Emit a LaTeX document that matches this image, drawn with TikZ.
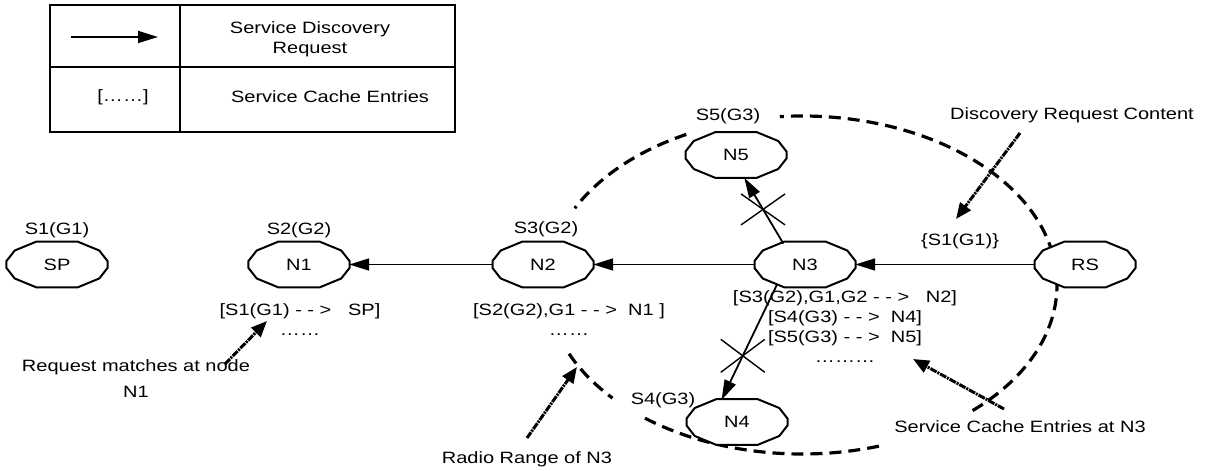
\documentclass[tikz,border=0pt]{standalone}
\usepackage{fontspec}
\setmainfont{Liberation Sans}[FakeStretch=1.22]
\usetikzlibrary{arrows.meta, calc, backgrounds, shapes.geometric}

\tikzset{
  station/.style={ellipse, minimum width=100pt, minimum height=46pt, inner sep=0pt},
  svc/.style={inner sep=0pt},
  cache/.style={inner sep=0pt, anchor=north, align=center},
  req/.style={line width=1.8pt, -{Triangle[length=20pt,width=12pt]}},
  cut/.style={line width=1.4pt},
  radio/.style={line width=3.2pt, dash pattern=on 12pt off 7pt},
  note/.style={line width=3pt, dash pattern=on 7pt off 1pt on 2pt off 1pt, -{Triangle[length=16pt,width=13pt]}},
}

\begin{document}
\begin{tikzpicture}[x=1pt, y=1pt, font=\fontsize{16.4}{20}\selectfont]
    \useasboundingbox (0,0) rectangle (1215,471);

    % legend
    \draw[line width=2pt] (50,339) rectangle (455,466);
    \draw[line width=2pt] (180,339) -- (180,466);
    \draw[line width=2pt] (50,404) -- (455,404);
    \coordinate (k1) at (71,434);
    \coordinate (k2) at (158,434);
    \draw[req] (k1) -- (k2);
    \node[align=center] (kreq) at (310,431.5) {Service Discovery\\Request};
    \node (kdots) at (123,374) {[……]};
    \node (kcache) at (330,374) {Service Cache Entries};

    % stations
    \node[station] (SP) at (57,206.5) {SP};
    \node[station] (N1) at (299,206.5) {N1};
    \node[station] (N2) at (543,206.5) {N2};
    \node[station] (N3) at (805,206.5) {N3};
    \node[station] (RS) at (1085,206.5) {RS};
    \node[station] (N5) at (736,316) {N5};
    \node[station] (N4) at (737,49) {N4};

    \node[svc] (s1) at (57,241) {S1(G1)};
    \node[svc] (s2) at (299,241) {S2(G2)};
    \node[svc] (s3) at (546,242) {S3(G2)};
    \node[svc] (s5) at (728,355) {S5(G3)};
    \node[svc] (s4) at (663,71) {S4(G3)};

    % service caches
    \node[cache] (c1) at (300,167.5) {[S1(G1) - - >\ \ \ SP]\\……};
    \node[cache] (c2) at (569,167.5) {[S2(G2),G1 - - >\ \ N1\ ]\\……};
    \node[cache] (c3) at (845,180.5) {[S3(G2),G1,G2 - - >\ \ \ N2]\\{}[S4(G3) - - >\ \ N4]\\{}[S5(G3) - - >\ \ N5]\\………};

    % requests
    \draw[req] (N2) -- (N1);
    \draw[req] (N3) -- (N2);
    \draw[req] (RS) -- (N3);
    \draw[req] (N3.136) -- coordinate[pos=0.52] (x5) (N5.-70);
    \draw[req] (N3.215) -- coordinate[pos=0.62] (x4) (N4.125);
    \draw[cut] ($(x5)+(-22,15.5)$) -- ($(x5)+(22,-15.5)$) ($(x5)+(-22,-15.5)$) -- ($(x5)+(22,15.5)$);
    \draw[cut] ($(x4)+(-22,16.5)$) -- ($(x4)+(22,-16.5)$) ($(x4)+(-22,-16.5)$) -- ($(x4)+(22,16.5)$);
    \node (sc1) at (960,230) {\{S1(G1)\}};

    % notes
    \node (drc) at (1072,356) {Discovery Request Content};
    \node (scn3) at (1020,44) {Service Cache Entries at N3};
    \node (rr) at (527,12) {Radio Range of N3};
    \node[align=center, anchor=north, inner sep=0pt] (rm) at (136,111.5) {Request matches at node\\[6pt]N1};
    \coordinate (drcA) at (1020,338);
    \coordinate (drcB) at (956,252);
    \coordinate (scA) at (1004,62);
    \coordinate (scB) at (913,112);
    \coordinate (rrA) at (527,33);
    \coordinate (rrB) at (577,104);
    \coordinate (rmA) at (225,107);
    \coordinate (rmB) at (267,150);
    \draw[note] (drcA) -- (drcB);
    \draw[note] (scA) -- (scB);
    \draw[note] (rrA) -- (rrB);
    \draw[note] (rmA) -- (rmB);

    \begin{scope}[on background layer]
      % radio range of N3
      \coordinate (rc) at (802,186);
      \draw[radio] ($(rc)+(117:255 and 169)$) arc[start angle=117, end angle=153, x radius=255, y radius=169];
      \draw[radio] ($(rc)+(204:255 and 169)$) arc[start angle=204, end angle=222, x radius=255, y radius=169];
      \draw[radio] ($(rc)+(232:255 and 169)$) arc[start angle=232, end angle=288, x radius=255, y radius=169];
      \draw[radio] ($(rc)+(312:255 and 169)$) arc[start angle=312, end angle=455, x radius=255, y radius=169];
      \foreach \n in {SP,N1,N2,N3,N4,N5,RS}
        \filldraw[fill=white, line width=2pt] ($(\n)+(8:51 and 25)$)
          \foreach \a in {34,66,114,146,172,188,214,246,294,326,352} {-- ($(\n)+(\a:51 and 25)$)} -- cycle;
    \end{scope}
  \end{tikzpicture}
\end{document}
